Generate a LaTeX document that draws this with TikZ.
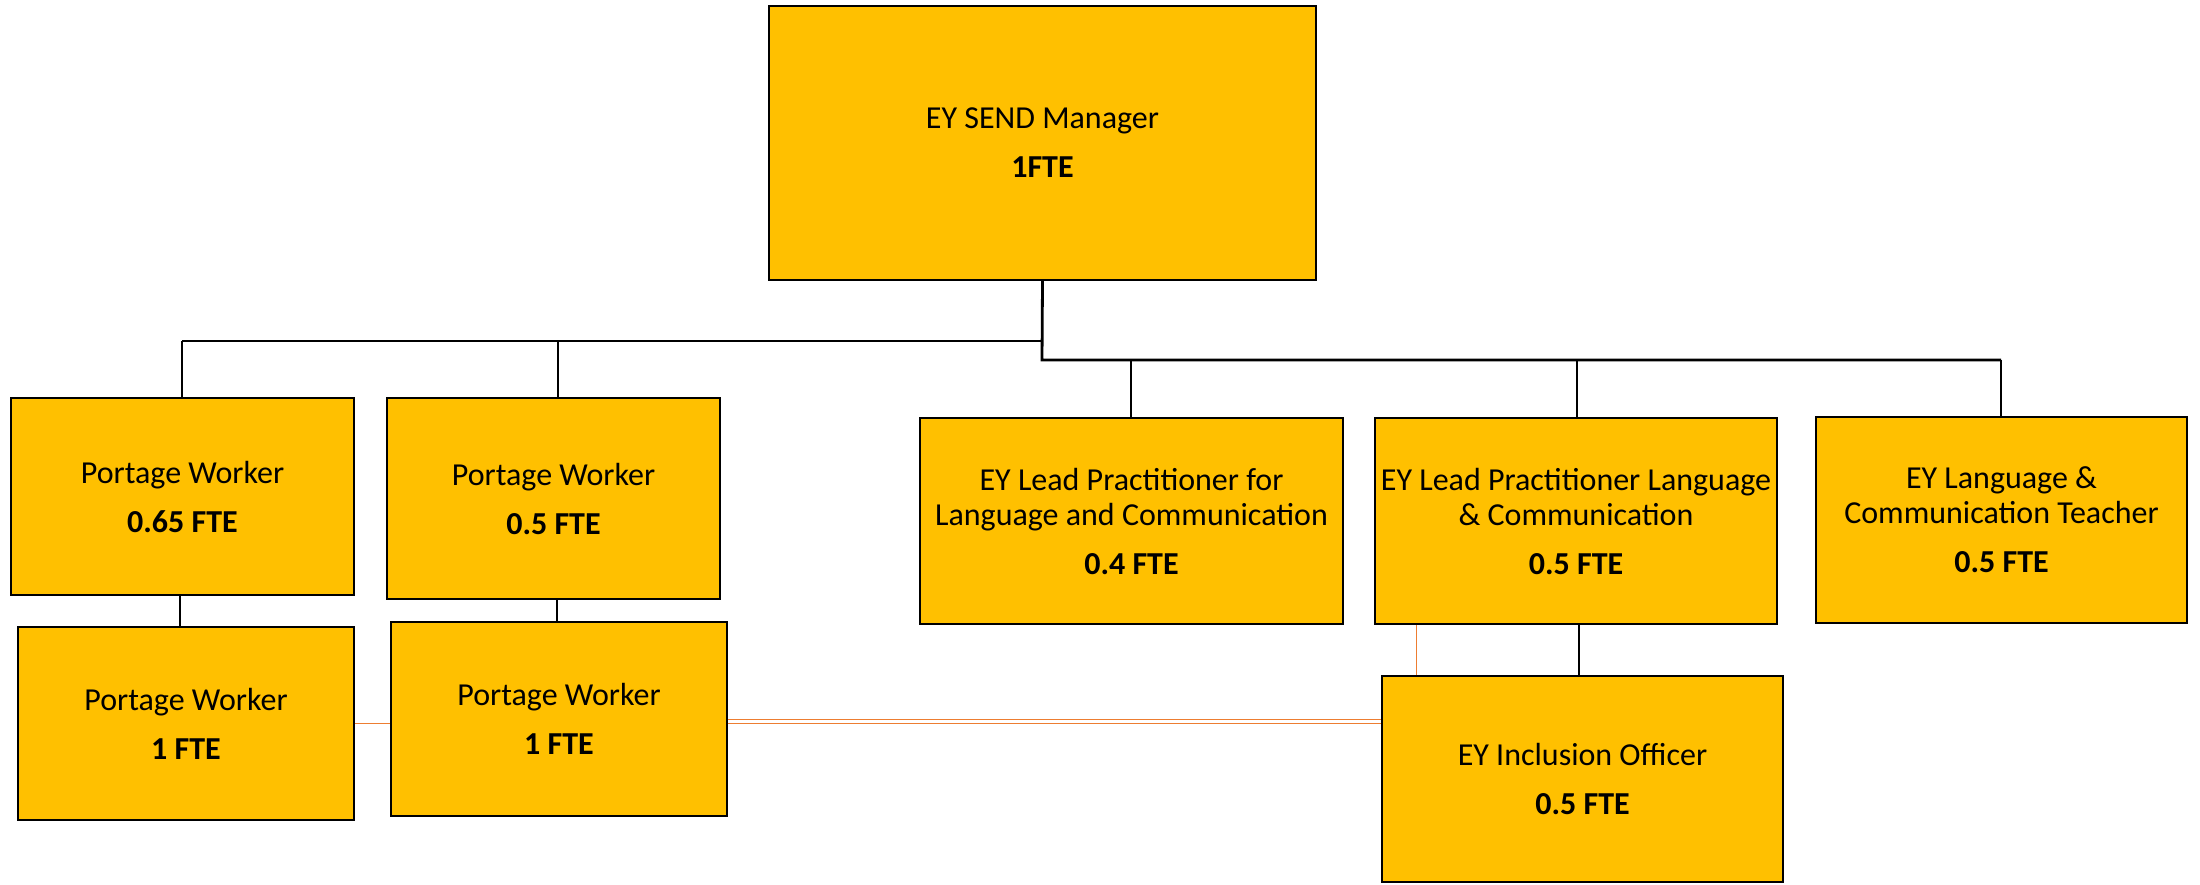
\documentclass[tikz,border=0pt]{standalone}
\usepackage{fontspec}
\setmainfont{Carlito}
\usetikzlibrary{calc}
\definecolor{boxfill}{HTML}{FFC000}
\definecolor{linkorange}{HTML}{ED7D31}
\begin{document}
\begin{tikzpicture}[x=0.5pt,y=-0.5pt,
  role/.style={draw=black, line width=1.1pt, fill=boxfill, inner sep=0pt, align=center,
    font=\fontsize{16}{17.5}\selectfont},
  link/.style={draw=black, line width=0.9pt},
  buslink/.style={draw=black, line width=1.4pt},
  olink/.style={draw=linkorange, line width=0.5pt}]
\useasboundingbox (0,0) rectangle (2200,884);

\node[role, minimum width=273.5pt, minimum height=137pt] (mgr) at (1042.5,143) {EY SEND Manager\\[7pt]\textbf{1FTE}};
\node[role, minimum width=171.5pt, minimum height=98.5pt] (pw065) at (182.5,496.5) {Portage Worker\\[7pt]\textbf{0.65 FTE}};
\node[role, minimum width=166.5pt, minimum height=100.5pt] (pw05) at (553.5,498.5) {Portage Worker\\[7pt]\textbf{0.5 FTE}};
\node[role, minimum width=211.5pt, minimum height=103pt] (lp1) at (1131.5,521) {EY Lead Practitioner for\\Language and Communication\\[7pt]\textbf{0.4 FTE}};
\node[role, minimum width=201pt, minimum height=103pt] (lp2) at (1576,521) {EY Lead Practitioner Language\\\& Communication\\[7pt]\textbf{0.5 FTE}};
\node[role, minimum width=185.5pt, minimum height=103pt] (teach) at (2001.5,520) {EY Language \&\\Communication Teacher\\[7pt]\textbf{0.5 FTE}};
\node[role, minimum width=168pt, minimum height=96.5pt] (pw1l) at (186,723.5) {Portage Worker\\[7pt]\textbf{1 FTE}};
\node[role, minimum width=168pt, minimum height=97pt] (pw1r) at (559,719) {Portage Worker\\[7pt]\textbf{1 FTE}};
\node[role, minimum width=200.5pt, minimum height=103pt] (incl) at (1582.5,779) {EY Inclusion Officer\\[7pt]\textbf{0.5 FTE}};

% bus junctions
\coordinate (busL) at (1042,341);
\coordinate (busR) at (1042,360);
\coordinate (jl1) at (182,341);
\coordinate (jl2) at (558,341);
\coordinate (jr1) at (1131,360);
\coordinate (jr2) at (1577,360);
\coordinate (jr3) at (2001,360);

\draw[buslink] (mgr.south) -- (busR) -- (jr3);
\draw[link] (busL) -- (jl1);
\draw[link] (jl1) -- (jl1 |- pw065.north);
\draw[link] (jl2) -- (jl2 |- pw05.north);
\draw[link] (jr1) -- (jr1 |- lp1.north);
\draw[link] (jr2) -- (jr2 |- lp2.north);
\draw[link] (jr3) -- (jr3 |- teach.north);

% lower links
\draw[link] (pw065.south -| 180,0) -- (pw1l.north -| 180,0);
\draw[link] (pw05.south -| 557,0) -- (pw1r.north -| 557,0);
\draw[link] (lp2.south -| 1579,0) -- (incl.north -| 1579,0);

% orange links
\draw[olink] (lp2.south -| 1416,0) -- (incl.north -| 1416,0);
\draw[olink] (pw1l.east |- 0,723) -- (pw1r.west |- 0,723);
\draw[olink] (pw1r.east |- 0,719) -- (incl.west |- 0,719);
\draw[olink] (pw1r.east |- 0,723) -- (incl.west |- 0,723);
\end{tikzpicture}
\end{document}
